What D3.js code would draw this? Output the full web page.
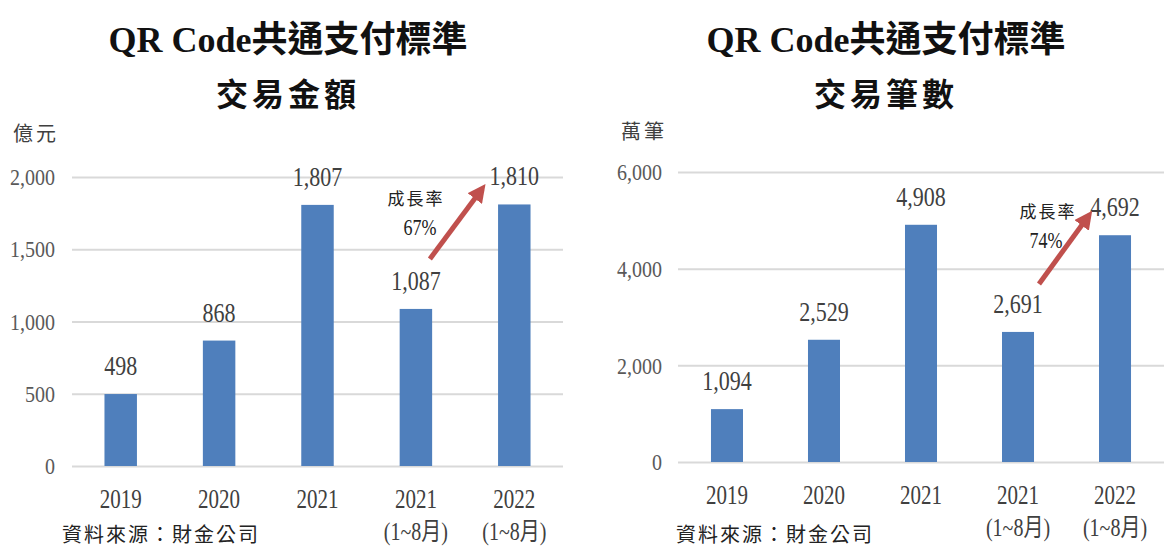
<!DOCTYPE html>
<html>
<head>
<meta charset="utf-8">
<script src="https://cdn.jsdelivr.net/npm/d3@7"></script>
<style>
  body { margin: 0; background: #fff; }
  svg { display: block; }
</style>
</head>
<body>
<svg id="chart" width="1166" height="547"></svg>
<script>
// Data

const yearLabels = ["2019", "2020", "2021", "2021", "2022"];
const periodLabels = ["", "", "", "(1~8月)", "(1~8月)"];
const amountValues = [498, 868, 1807, 1087, 1810];
const countValues = [1094, 2529, 4908, 2691, 4692];
const amountTicks = [0, 500, 1000, 1500, 2000];
const countTicks = [0, 2000, 4000, 6000];
const growthAmount = "67%";
const growthCount = "74%";
const titleLine1 = "QR Code共通支付標準";
const amountTitle = "交易金額";
const countTitle = "交易筆數";
const amountUnit = "億元";
const countUnit = "萬筆";
const sourceText = "資料來源：財金公司";

const SERIF = "'Liberation Serif', 'Noto Sans CJK TC', serif";
const BAR_COLOR = "#4f7fbc";
const ARROW_COLOR = "#c0504d";
const GRID_COLOR = "#d9d9d9";
const TEXT_COLOR = "#404040";
// the source image has tall, narrow digits
const SY = 1.25;

const svg = d3.select("#chart");

svg.append("defs")
  .append("marker")
  .attr("id", "arrowhead")
  .attr("viewBox", "0 0 10 10")
  .attr("refX", 7)
  .attr("refY", 5)
  .attr("markerWidth", 3.6)
  .attr("markerHeight", 3.6)
  .attr("markerUnits", "strokeWidth")
  .attr("orient", "auto")
  .append("path")
  .attr("d", "M0,0 L10,5 L0,10 z")
  .attr("fill", ARROW_COLOR);

/**
 * Draw one bar panel
 */
function drawPanel(cfg) {
  const g = svg.append("g");
  const cats = yearLabels.map((d, i) => i);

  const x = d3.scaleBand()
    .domain(cats)
    .range(cfg.xRange)
    .paddingInner(0.67)
    .paddingOuter(cfg.outer);

  const y = d3.scaleLinear()
    .domain(cfg.yDomain)
    .range(cfg.yRange);

  const mid = (i) => x(i) + x.bandwidth() / 2;

  // Titles
  g.append("text")
    .attr("x", cfg.titleX)
    .attr("y", 52)
    .attr("text-anchor", "middle")
    .style("font-family", SERIF)
    .style("font-weight", "bold")
    .style("font-size", "36px")
    .style("fill", "#111")
    .text(titleLine1);

  g.append("text")
    .attr("x", cfg.titleX)
    .attr("y", 106)
    .attr("text-anchor", "middle")
    .style("font-family", SERIF)
    .style("font-weight", "bold")
    .style("font-size", "32px")
    .style("letter-spacing", "4px")
    .style("fill", "#111")
    .text(cfg.subtitle);

  // Unit
  g.append("text")
    .attr("x", cfg.unitX)
    .attr("y", cfg.unitY)
    .style("font-family", SERIF)
    .style("font-size", "20px")
    .style("letter-spacing", "3px")
    .style("fill", TEXT_COLOR)
    .text(cfg.unit);

  // Y axis with gridlines
  const yAxis = g.append("g")
    .attr("transform", `translate(${cfg.xRange[0]},0)`)
    .call(
      d3.axisLeft(y)
        .tickValues(cfg.ticks)
        .tickFormat(d3.format(","))
        .tickSize(-(cfg.xRange[1] - cfg.xRange[0]))
        .tickPadding(cfg.tickPad)
    );
  yAxis.select(".domain").remove();
  yAxis.selectAll("line")
    .attr("stroke", GRID_COLOR)
    .attr("stroke-width", 2);
  yAxis.selectAll("text")
    .attr("transform", "scale(1,1.2)")
    .style("font-family", SERIF)
    .style("font-size", "20px")
    .style("fill", "#595959");

  // Bars
  g.selectAll("rect.bar")
    .data(cfg.values)
    .enter()
    .append("rect")
    .attr("class", "bar")
    .attr("x", (d, i) => x(i))
    .attr("y", (d) => y(d))
    .attr("width", x.bandwidth())
    .attr("height", (d) => y(0) - y(d))
    .style("fill", BAR_COLOR);

  // Value labels
  g.selectAll("text.val")
    .data(cfg.values)
    .enter()
    .append("text")
    .attr("class", "val")
    .attr("x", (d, i) => mid(i))
    .attr("y", (d) => (y(d) - 19) / SY)
    .attr("transform", `scale(1,${SY})`)
    .attr("text-anchor", "middle")
    .style("font-family", SERIF)
    .style("font-size", "22px")
    .style("fill", TEXT_COLOR)
    .text((d) => d3.format(",")(d));

  // Category labels
  g.selectAll("text.cat1")
    .data(yearLabels)
    .enter()
    .append("text")
    .attr("class", "cat1")
    .attr("x", (d, i) => mid(i))
    .attr("y", (y(0) + 42) / SY)
    .attr("transform", `scale(1,${SY})`)
    .attr("text-anchor", "middle")
    .style("font-family", SERIF)
    .style("font-size", "21px")
    .style("fill", TEXT_COLOR)
    .text((d) => d);

  g.selectAll("text.cat2")
    .data(periodLabels)
    .enter()
    .append("text")
    .attr("class", "cat2")
    .attr("x", (d, i) => mid(i))
    .attr("y", (y(0) + 74) / SY)
    .attr("transform", `scale(1,${SY})`)
    .attr("text-anchor", "middle")
    .style("font-family", SERIF)
    .style("font-size", "20px")
    .style("fill", TEXT_COLOR)
    .text((d) => d);

  // Source
  g.append("text")
    .attr("x", cfg.sourceX)
    .attr("y", 542)
    .style("font-family", SERIF)
    .style("font-size", "20px")
    .style("letter-spacing", "2px")
    .style("fill", "#222")
    .text(sourceText);

  // Growth arrow from bar 4 to bar 5
  const tail = [mid(3) + cfg.arrow.tailDx, y(cfg.values[3]) + cfg.arrow.tailDy];
  const tip = [mid(4) + cfg.arrow.tipDx, y(cfg.values[4]) + cfg.arrow.tipDy];

  g.append("line")
    .attr("x1", tail[0])
    .attr("y1", tail[1])
    .attr("x2", tip[0])
    .attr("y2", tip[1])
    .attr("stroke", ARROW_COLOR)
    .attr("stroke-width", 5)
    .attr("marker-end", "url(#arrowhead)");

  g.append("text")
    .attr("x", mid(3) + cfg.growthDx)
    .attr("y", tip[1] + cfg.growthDy)
    .attr("text-anchor", "middle")
    .style("font-family", SERIF)
    .style("font-size", "17px")
    .style("letter-spacing", "2px")
    .style("fill", "#222")
    .text("成長率");

  g.append("text")
    .attr("x", mid(3) + cfg.growthDx + cfg.pctDx)
    .attr("y", (tip[1] + cfg.growthDy + 30) / SY)
    .attr("transform", `scale(1,${SY})`)
    .attr("text-anchor", "middle")
    .style("font-family", SERIF)
    .style("font-size", "18px")
    .style("fill", "#222")
    .text(cfg.growth);
}

drawPanel({
  values: amountValues,
  ticks: amountTicks,
  yDomain: [0, 2000],
  yRange: [466, 177],
  xRange: [72, 563],
  outer: 0.33,
  tickPad: 17,
  titleX: 288,
  subtitle: amountTitle,
  unit: amountUnit,
  unitX: 13,
  unitY: 141,
  sourceX: 62,
  growth: growthAmount,
  growthDx: 0,
  growthDy: 17,
  pctDx: 4,
  arrow: { tailDx: 14, tailDy: -50, tipDx: -32, tipDy: -16 },
});

drawPanel({
  values: countValues,
  ticks: countTicks,
  yDomain: [0, 6000],
  yRange: [462, 172],
  xRange: [678, 1164],
  outer: 0.34,
  tickPad: 16,
  titleX: 886,
  subtitle: countTitle,
  unit: countUnit,
  unitX: 621,
  unitY: 139,
  sourceX: 676,
  growth: growthCount,
  growthDx: 30,
  growthDy: 3,
  pctDx: -2,
  arrow: { tailDx: 21, tailDy: -48, tipDx: -26, tipDy: -20 },
});
</script>
</body>
</html>
